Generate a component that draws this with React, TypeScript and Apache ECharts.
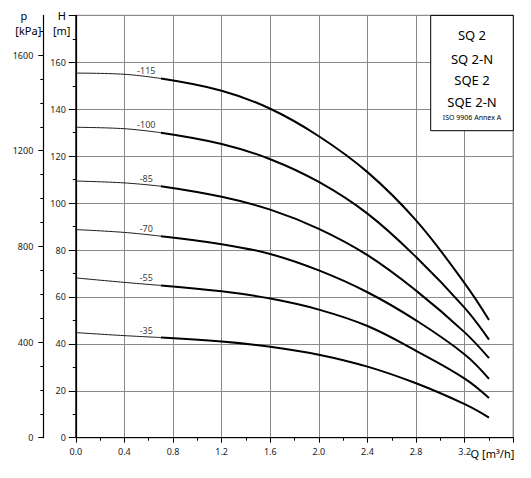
import React, { useEffect, useRef } from 'react';
import * as echarts from 'echarts';

// Flow rate Q [m³/h] at which the head values were read
const Q = [0, 0.4, 0.7, 1.2, 1.6, 2.0, 2.4, 2.8, 3.2, 3.4];
// Head H [m] for each pump curve
const H115 = [155.4, 154.9, 153.1, 147.9, 140.2, 128.5, 113.2, 92.6, 65.8, 50.2];
const H100 = [132.3, 131.7, 130.0, 125.2, 118.7, 109.0, 95.5, 77.0, 55.3, 41.8];
const H85 = [109.4, 108.6, 107.2, 102.7, 97.2, 89.0, 77.8, 62.7, 44.9, 33.9];
const H70 = [88.7, 87.5, 85.9, 82.5, 78.3, 71.3, 62.0, 50.0, 35.5, 25.1];
const H55 = [68.1, 66.2, 64.9, 62.4, 59.3, 54.6, 47.6, 37.0, 25.2, 16.9];
const H35 = [44.8, 43.5, 42.7, 41.0, 38.8, 35.4, 30.3, 23.2, 14.3, 8.6];
const CURVE_NAMES = ['-115', '-100', '-85', '-70', '-55', '-35'];
const CURVE_H = [H115, H100, H85, H70, H55, H35];
// number of leading points drawn with the thin line
const THIN_POINTS = 3;
// curve label anchors
const LABEL_Q = 0.58;
const LABEL_H = [153.9, 130.7, 107.8, 86.5, 65.3, 43.0];

const Q_MAX = 3.6;
const Q_INTERVAL = 0.4;
const H_MAX = 180;
const H_INTERVAL = 20;
const KPA_PER_M = 9.81;
const P_MAX = H_MAX * KPA_PER_M;
const P_MAJOR = [0, 400, 800, 1200, 1600];
const P_MINOR = [100, 200, 300, 500, 600, 700, 900, 1000, 1100, 1300, 1400, 1500, 1700];
const X_UNIT = 'Q [m³/h]';
const LEGEND_LINES = ['SQ 2', 'SQ 2-N', 'SQE 2', 'SQE 2-N'];
const LEGEND_NOTE = 'ISO 9906 Annex A';

const FONT = 'Noto Sans';

export default function App() {
  const ref = useRef<HTMLDivElement>(null);
  useEffect(() => {
    if (!ref.current) return;
    const chart = echarts.init(ref.current, null, { renderer: 'svg' });

    const series: any[] = [];
    CURVE_H.forEach((h) => {
      const pts = Q.map((q, k) => [q, h[k]]);
      series.push({
        type: 'line',
        xAxisIndex: 0,
        yAxisIndex: 0,
        data: pts.slice(0, THIN_POINTS),
        smooth: 0.4,
        symbol: 'none',
        silent: true,
        lineStyle: { width: 1, color: '#1a1a1a' },
      });
      series.push({
        type: 'line',
        xAxisIndex: 0,
        yAxisIndex: 0,
        data: pts.slice(THIN_POINTS - 1),
        smooth: 0.4,
        symbol: 'none',
        silent: true,
        lineStyle: { width: 2, color: '#000' },
      });
    });
    series.push({
      type: 'scatter',
      xAxisIndex: 0,
      yAxisIndex: 0,
      symbolSize: 0,
      silent: true,
      data: CURVE_NAMES.map((n, i) => ({ name: n, value: [LABEL_Q, LABEL_H[i]] })),
      label: {
        show: true,
        position: 'top',
        distance: 2,
        formatter: '{b}',
        fontSize: 9,
        color: '#000',
        fontFamily: FONT,
      },
    });

    const gridL = 75.8;
    const gridR = 513.3;
    const gridT = 15.4;
    const gridB = 437.7;
    const boxL = 430.7;
    const boxB = 130.7;
    const cx = (boxL + gridR) / 2;
    const legendY = [35, 58.5, 80.2, 101.5];

    chart.setOption({
      animation: false,
      textStyle: { fontFamily: FONT },
      grid: {
        left: gridL,
        right: 531 - gridR,
        top: gridT,
        bottom: 478 - gridB,
        show: true,
        borderColor: '#000',
        borderWidth: 1,
        backgroundColor: 'transparent',
      },
      xAxis: {
        type: 'value',
        min: 0,
        max: Q_MAX,
        interval: Q_INTERVAL,
        axisLine: { show: true, lineStyle: { color: '#000', width: 1.2 } },
        axisTick: { show: true, length: 5, lineStyle: { color: '#000' } },
        minorTick: { show: true, splitNumber: 2, length: 3, lineStyle: { color: '#000' } },
        splitLine: { show: true, lineStyle: { color: '#8a8a8a', width: 1 } },
        axisLabel: {
          margin: 9,
          fontSize: 9,
          color: '#222',
          showMaxLabel: false,
          formatter: (v: number) => (v >= Q_MAX - 1e-6 ? '' : v.toFixed(1)),
        },
      },
      yAxis: [
        {
          type: 'value',
          position: 'left',
          min: 0,
          max: H_MAX,
          interval: H_INTERVAL,
          axisLine: { show: true, lineStyle: { color: '#000', width: 1.2 } },
          axisTick: { show: true, length: 7, lineStyle: { color: '#000' } },
          minorTick: { show: true, splitNumber: 2, length: 3, lineStyle: { color: '#000' } },
          splitLine: { show: true, lineStyle: { color: '#8a8a8a', width: 1 } },
          axisLabel: {
            margin: 10,
            fontSize: 9,
            color: '#222',
            formatter: (v: number) => (v >= H_MAX ? '{u|H}' : String(v)),
            rich: { u: { fontSize: 11, color: '#000', fontFamily: FONT } },
          },
        },
        {
          type: 'value',
          position: 'left',
          offset: 32.5,
          min: 0,
          max: P_MAX,
          axisLine: { show: true, onZero: false, lineStyle: { color: '#000', width: 1.2 } },
          axisTick: { show: true, length: 5, customValues: P_MAJOR, lineStyle: { color: '#000' } },
          splitLine: { show: false },
          axisLabel: {
            margin: 10,
            fontSize: 9,
            color: '#222',
            customValues: [...P_MAJOR, P_MAX],
            formatter: (v: number) => (v > 1700 ? '{u|p}' : String(v)),
            rich: { u: { fontSize: 11, color: '#000', fontFamily: FONT, padding: [0, 6, 0, 0] } },
          },
        },
        {
          type: 'value',
          position: 'left',
          offset: 32.5,
          min: 0,
          max: P_MAX,
          axisLine: { show: false, onZero: false },
          axisTick: { show: true, length: 3, customValues: P_MINOR, lineStyle: { color: '#000' } },
          splitLine: { show: false },
          axisLabel: { show: false },
        },
      ],
      graphic: [
        {
          type: 'rect',
          shape: { x: boxL, y: gridT, width: gridR - boxL, height: boxB - gridT },
          style: { fill: '#fff', stroke: '#000', lineWidth: 1 },
          z: 10,
        },
        ...LEGEND_LINES.map((t, i) => ({
          type: 'text',
          x: cx,
          y: legendY[i],
          z: 11,
          style: {
            text: t,
            fontSize: 13,
            fontFamily: FONT,
            fill: '#000',
            textAlign: 'center',
            textVerticalAlign: 'middle',
          },
        })),
        {
          type: 'text',
          x: cx,
          y: 117.5,
          z: 11,
          style: {
            text: LEGEND_NOTE,
            fontSize: 7,
            fontFamily: FONT,
            fill: '#000',
            textAlign: 'center',
            textVerticalAlign: 'middle',
          },
        },
        {
          type: 'text',
          x: gridR + 1,
          y: 453,
          style: {
            text: X_UNIT,
            fontSize: 11,
            fontFamily: FONT,
            fill: '#000',
            textAlign: 'right',
            textVerticalAlign: 'middle',
          },
        },
        {
          type: 'text',
          x: 61.7,
          y: 30,
          style: {
            text: '[m]',
            fontSize: 11,
            fontFamily: FONT,
            fill: '#000',
            textAlign: 'center',
            textVerticalAlign: 'middle',
          },
        },
        {
          type: 'text',
          x: 28.3,
          y: 30,
          style: {
            text: '[kPa]',
            fontSize: 11,
            fontFamily: FONT,
            fill: '#000',
            textAlign: 'center',
            textVerticalAlign: 'middle',
          },
        },
      ],
      series,
    });
    return () => chart.dispose();
  }, []);
  return (
    <div
      ref={ref}
      style={{ position: 'absolute', left: 0, top: 0, width: 531, height: 478, background: '#fff' }}
    />
  );
}
